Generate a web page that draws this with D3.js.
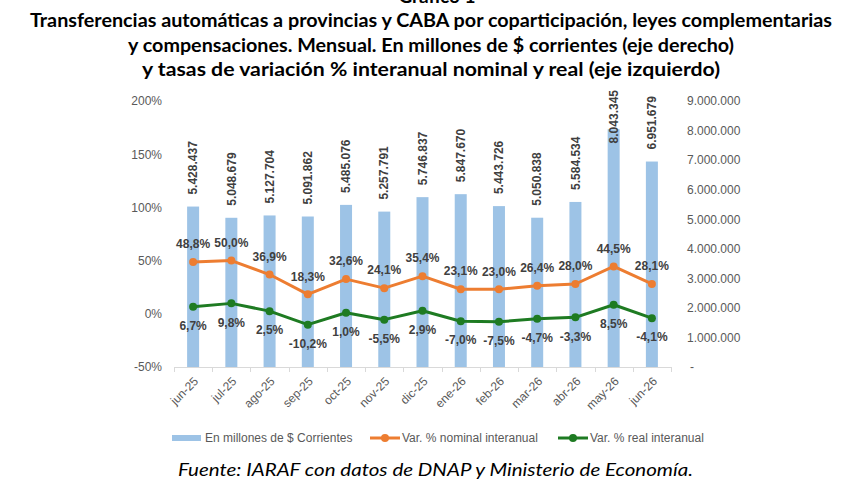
<!DOCTYPE html>
<html>
<head>
<meta charset="utf-8">
<script src="https://cdn.jsdelivr.net/npm/d3@7"></script>
<style>
    html, body { margin: 0; padding: 0; background: #fff; }
    #chart { width: 862px; height: 492px; }
</style>
</head>
<body>
<div id="chart"></div>
<script>
// ─── Data ─────────────────────────────────────────────────────────────────
const months = ['jun-25', 'jul-25', 'ago-25', 'sep-25', 'oct-25', 'nov-25', 'dic-25',
                'ene-26', 'feb-26', 'mar-26', 'abr-26', 'may-26', 'jun-26'];
const montos = [5428437, 5048679, 5127704, 5091862, 5485076, 5257791, 5746837,
                5847670, 5443726, 5050838, 5584534, 8043345, 6951679];
const varNominal = [48.8, 50.0, 36.9, 18.3, 32.6, 24.1, 35.4, 23.1, 23.0, 26.4, 28.0, 44.5, 28.1];
const varReal = [6.7, 9.8, 2.5, -10.2, 1.0, -5.5, 2.9, -7.0, -7.5, -4.7, -3.3, 8.5, -4.1];
const leftTicks = [-50, 0, 50, 100, 150, 200];
const rightTicks = [0, 1e6, 2e6, 3e6, 4e6, 5e6, 6e6, 7e6, 8e6, 9e6];

const titleLines = [
    'Transferencias automáticas a provincias y CABA por coparticipación, leyes complementarias',
    'y compensaciones. Mensual. En millones de $ corrientes (eje derecho)',
    'y tasas de variación % interanual nominal y real (eje izquierdo)'
];
const legendLabels = ['En millones de $ Corrientes', 'Var. % nominal interanual', 'Var. % real interanual'];
const sourceNote = 'Fuente: IARAF con datos de DNAP y Ministerio de Economía.';

// ─── Helpers ──────────────────────────────────────────────────────────────
// Spanish number style, plain hyphen for negatives (as in the source sheet)
const es = d3.formatLocale({ decimal: ',', thousands: '.', grouping: [3], currency: ['$', ''], minus: '-' });
const fmtMonto = es.format(',.0f');
const fmtPct = es.format('.1f');

const BAR = '#9DC3E6', ORANGE = '#ED7D31', GREEN = '#1E7B22';
const LABEL = '#404040', AXIS = '#595959';
const FONT = '"Liberation Sans", Arial, sans-serif';
const TITLE_FONT = 'Lato, "Open Sans", sans-serif';

const W = 862, H = 492;
const plot = { left: 174, right: 671, top: 101, bottom: 367 };

const svg = d3.select('#chart').append('svg').attr('width', W).attr('height', H)
    .style('font-family', FONT);

// ─── Title ────────────────────────────────────────────────────────────────
// the heading above is cropped in the original picture, only its bottom shows
svg.append('text')
    .attr('x', 437).attr('y', 3)
    .attr('text-anchor', 'middle')
    .style('font-family', TITLE_FONT).style('font-size', '19px').style('font-weight', 700)
    .text('Gráfico 1');

const titleWidths = [802, 606, 578];
titleLines.forEach((t, i) => {
    svg.append('text')
        .attr('x', 431).attr('y', 27 + i * 24.5)
        .attr('text-anchor', 'middle')
        .attr('textLength', titleWidths[i]).attr('lengthAdjust', 'spacingAndGlyphs')
        .style('font-family', TITLE_FONT).style('font-size', '19px').style('font-weight', 700)
        .style('fill', '#000')
        .text(t);
});

// ─── Scales ───────────────────────────────────────────────────────────────
const x = d3.scaleBand().domain(months).range([plot.left, plot.right]);
const yPct = d3.scaleLinear().domain([-50, 200]).range([plot.bottom, plot.top]);
const yMonto = d3.scaleLinear().domain([0, 9e6]).range([plot.bottom, plot.top]);
const cx = d => x(d) + x.bandwidth() / 2;

// ─── Axes ─────────────────────────────────────────────────────────────────
const leftAxis = svg.append('g').attr('transform', `translate(${plot.left - 12},0)`)
    .call(d3.axisLeft(yPct).tickValues(leftTicks).tickSize(0).tickFormat(d => d + '%'));
leftAxis.select('.domain').remove();
leftAxis.selectAll('text').attr('x', 0).style('font-size', '12px').style('fill', AXIS)
    .style('font-family', FONT);

const rightAxis = svg.append('g').attr('transform', `translate(${plot.right + 16},0)`)
    .call(d3.axisRight(yMonto).tickValues(rightTicks).tickSize(0)
        .tickFormat(d => d === 0 ? '-' : fmtMonto(d)));
rightAxis.select('.domain').remove();
rightAxis.selectAll('text').attr('x', d => d === 0 ? 3 : 0).style('font-size', '12px')
    .style('fill', AXIS).style('font-family', FONT);

// category axis: line + ticks at band boundaries
svg.append('line')
    .attr('x1', plot.left).attr('x2', plot.right)
    .attr('y1', plot.bottom + 0.5).attr('y2', plot.bottom + 0.5)
    .style('stroke', '#d9d9d9').style('stroke-width', 1);
svg.selectAll('.xtick')
    .data(months.concat(['__end']))
    .enter().append('line')
    .attr('class', 'xtick')
    .attr('x1', d => Math.round(d === '__end' ? plot.right : x(d)) + 0.5)
    .attr('x2', d => Math.round(d === '__end' ? plot.right : x(d)) + 0.5)
    .attr('y1', plot.bottom).attr('y2', plot.bottom + 5)
    .style('stroke', '#d9d9d9').style('stroke-width', 1);
svg.selectAll('.xlabel')
    .data(months)
    .enter().append('text')
    .attr('class', 'xlabel')
    .attr('transform', d => `translate(${cx(d) + 3},${plot.bottom + 12}) rotate(-45)`)
    .attr('text-anchor', 'end')
    .attr('dy', '0.35em')
    .style('font-size', '12px').style('fill', AXIS)
    .text(d => d);

// ─── Bars ─────────────────────────────────────────────────────────────────
const barW = 12;
svg.selectAll('.bar')
    .data(months)
    .enter().append('rect')
    .attr('class', 'bar')
    .attr('x', d => cx(d) - barW / 2)
    .attr('width', barW)
    .attr('y', (d, i) => yMonto(montos[i]))
    .attr('height', (d, i) => plot.bottom - yMonto(montos[i]))
    .style('fill', BAR);

// Bar labels, rotated; pushed back inside the chart if they overflow the top
svg.selectAll('.barlabel')
    .data(months)
    .enter().append('text')
    .attr('class', 'barlabel')
    .text((d, i) => fmtMonto(montos[i]))
    .style('font-size', '12px').style('font-weight', 700).style('fill', LABEL)
    .attr('text-anchor', 'start')
    .attr('dy', '0.35em')
    .attr('transform', function(d, i) {
        const len = this.getComputedTextLength();
        let start = yMonto(montos[i]) - 12;
        if (start - len < 90) start = 90 + len;
        return `translate(${cx(d)},${start}) rotate(-90)`;
    });

// ─── Lines ────────────────────────────────────────────────────────────────
function drawSeries(values, color, labelOffset) {
    const line = d3.line().x((v, i) => cx(months[i])).y(v => yPct(v));
    svg.append('path')
        .datum(values)
        .attr('d', line)
        .style('fill', 'none').style('stroke', color).style('stroke-width', 3)
        .style('stroke-linejoin', 'round');
    svg.selectAll(null)
        .data(values)
        .enter().append('circle')
        .attr('cx', (v, i) => cx(months[i]))
        .attr('cy', v => yPct(v))
        .attr('r', 4)
        .style('fill', color);
    svg.selectAll(null)
        .data(values)
        .enter().append('text')
        .attr('x', (v, i) => cx(months[i]))
        .attr('y', v => yPct(v) + labelOffset)
        .attr('dy', '0.35em')
        .attr('text-anchor', 'middle')
        .style('font-size', '12px').style('font-weight', 700).style('fill', LABEL)
        .text(v => fmtPct(v) + '%');
}
drawSeries(varNominal, ORANGE, -18);
drawSeries(varReal, GREEN, 19);

// ─── Legend ───────────────────────────────────────────────────────────────
const legY = 438;
const leg = svg.append('g').style('font-size', '12px').style('fill', AXIS);
leg.append('rect').attr('x', 172).attr('y', legY - 3).attr('width', 29).attr('height', 6)
    .style('fill', BAR);
leg.append('text').attr('x', 205).attr('y', legY).attr('dy', '0.35em').style('fill', AXIS)
    .text(legendLabels[0]);
[[370, ORANGE, legendLabels[1]], [558, GREEN, legendLabels[2]]].forEach(([lx, c, t]) => {
    leg.append('line').attr('x1', lx).attr('x2', lx + 30).attr('y1', legY).attr('y2', legY)
        .style('stroke', c).style('stroke-width', 3);
    leg.append('circle').attr('cx', lx + 15).attr('cy', legY).attr('r', 4).style('fill', c);
    leg.append('text').attr('x', lx + 32).attr('y', legY).attr('dy', '0.35em').style('fill', AXIS)
        .text(t);
});

// ─── Source ───────────────────────────────────────────────────────────────
svg.append('text')
    .attr('x', 178).attr('y', 476)
    .attr('textLength', 515).attr('lengthAdjust', 'spacingAndGlyphs')
    .style('font-family', TITLE_FONT).style('font-size', '18px').style('font-style', 'italic')
    .style('fill', '#000')
    .text(sourceNote);
</script>
</body>
</html>
